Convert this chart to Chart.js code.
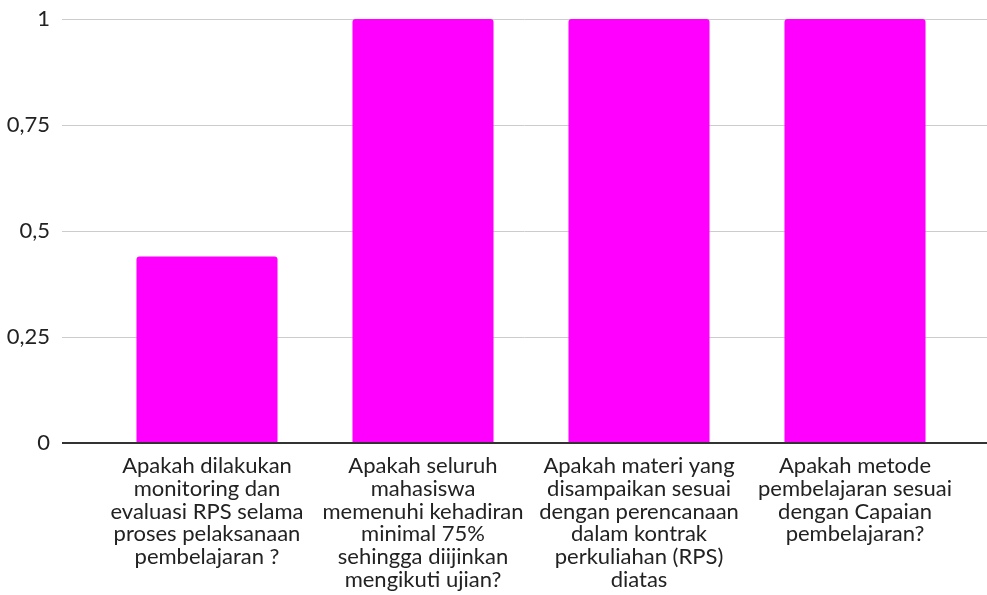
<!DOCTYPE html>
<html>
<head>
<meta charset="utf-8">
<script src="https://cdn.jsdelivr.net/npm/chart.js@4"></script>
<style>
  body { margin: 0; background: #fff; }
  #wrap { width: 987px; height: 595px; }
</style>
</head>
<body>
<div id="wrap"><canvas id="chart"></canvas></div>
<script>
// data
const questions = [
    ['Apakah dilakukan', 'monitoring dan', 'evaluasi RPS selama', 'proses pelaksanaan', 'pembelajaran ?'],
    ['Apakah seluruh', 'mahasiswa', 'memenuhi kehadiran', 'minimal 75%', 'sehingga diijinkan', 'mengikuti ujian?'],
    ['Apakah materi yang', 'disampaikan sesuai', 'dengan perencanaan', 'dalam kontrak', 'perkuliahan (RPS)', 'diatas'],
    ['Apakah metode', 'pembelajaran sesuai', 'dengan Capaian', 'pembelajaran?']
];
const scores = [0.44, 1, 1, 1];
const yTicks = [0, 0.25, 0.5, 0.75, 1];

const FONT = 'Lato, "Open Sans", sans-serif';

// horizontal grid lines run wider than the category band, so draw them here
const gridLines = {
    id: 'gridLines',
    beforeDatasetsDraw(chart) {
        const ctx = chart.ctx;
        const y = chart.scales.y;
        ctx.save();
        ctx.lineWidth = 1;
        ctx.strokeStyle = '#cccccc';
        y.ticks.forEach(t => {
            if (t.value === 0) return;
            const py = Math.round(y.getPixelForValue(t.value)) + 0.5;
            ctx.beginPath();
            ctx.moveTo(62, py);
            ctx.lineTo(chart.width, py);
            ctx.stroke();
        });
        ctx.restore();
    },
    afterDatasetsDraw(chart) {
        const ctx = chart.ctx;
        const py = Math.round(chart.scales.y.getPixelForValue(0));
        ctx.save();
        ctx.lineWidth = 2;
        ctx.strokeStyle = '#333333';
        ctx.beginPath();
        ctx.moveTo(62, py);
        ctx.lineTo(chart.width, py);
        ctx.stroke();
        ctx.restore();
    }
};

const ctx = document.getElementById('chart').getContext('2d');
new Chart(ctx, {
    type: 'bar',
    data: {
        labels: questions,
        datasets: [{
            data: scores,
            backgroundColor: '#ff00ff',
            borderRadius: 3,
            borderSkipped: 'bottom',
            barPercentage: 0.653,
            categoryPercentage: 1
        }]
    },
    options: {
        responsive: true,
        maintainAspectRatio: false,
        animation: false,
        layout: { padding: { top: 19, right: 24, bottom: 4, left: 0 } },
        plugins: {
            legend: { display: false },
            tooltip: { enabled: false }
        },
        scales: {
            x: {
                afterFit(scale) { scale.height = 148; },
                grid: { display: false, drawTicks: false },
                border: { display: false },
                ticks: {
                    color: '#222',
                    font: { family: FONT, size: 22, lineHeight: 1.03 },
                    padding: 12,
                    maxRotation: 0,
                    autoSkip: false
                }
            },
            y: {
                min: 0,
                max: 1,
                afterFit(scale) {
                    scale.width = 99;
                    // big tick padding is only there to push labels left
                    scale.paddingTop = 0;
                    scale.paddingBottom = 0;
                },
                afterBuildTicks(scale) { scale.ticks = yTicks.map(v => ({ value: v })); },
                grid: { display: false, drawTicks: false },
                border: { display: false },
                ticks: {
                    color: '#222',
                    font: { family: FONT, size: 22 },
                    padding: 49,
                    callback: v => String(v).replace('.', ',')
                }
            }
        }
    },
    plugins: [gridLines]
});
</script>
</body>
</html>
